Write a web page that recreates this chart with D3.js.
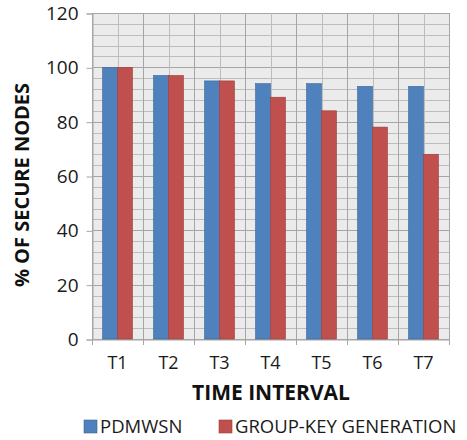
<!DOCTYPE html>
<html><head><meta charset="utf-8">
<script src="https://cdn.jsdelivr.net/npm/d3@7"></script>
<style>body{margin:0;background:#fff}</style>
</head><body>
<svg id="c" width="467" height="440"></svg>
<script>
const categories = ["T1","T2","T3","T4","T5","T6","T7"];
const seriesNames = ["PDMWSN","GROUP-KEY GENERATION"];
const pdmwsn = [100,97,95,94,94,93,93];
const groupKey = [100,97,95,89,84,78,68];
const yTicks = [0,20,40,60,80,100,120];
const colors = ["#4f81bd","#c0504d"];
const strokes = ["#3d6797","#9a3e3b"];

const font = "'Open Sans', sans-serif";
const svg = d3.select("#c");
const L = 92, R = 449, T = 13, B = 339;

const x = d3.scaleBand().domain(categories).range([L, R]).paddingInner(0).paddingOuter(0);
const x1 = d3.scaleBand().domain(seriesNames).range([0, x.bandwidth()]).paddingOuter(0.7).paddingInner(0);
const y = d3.scaleLinear().domain([0,120]).range([B, T]);

// plot background
svg.append("rect").attr("x", L).attr("y", T).attr("width", R-L).attr("height", B-T).attr("fill", "#ebebeb");

// minor horizontal gridlines
const minor = d3.range(0, 121, 4);
svg.append("g").selectAll("line").data(minor).join("line")
  .attr("x1", L).attr("x2", R).attr("y1", d => Math.round(y(d))+0.5).attr("y2", d => Math.round(y(d))+0.5)
  .attr("stroke", d => d % 20 === 0 ? "#a6a6a6" : "#bdbdbd").attr("stroke-width", 1);

// vertical gridlines: category boundaries and centers
const vb = categories.map(c => x(c)).concat([R]);
svg.append("g").selectAll("line").data(vb).join("line")
  .attr("x1", d => Math.round(d)+0.5).attr("x2", d => Math.round(d)+0.5).attr("y1", T).attr("y2", B+6)
  .attr("stroke", "#a6a6a6");
svg.append("g").selectAll("line").data(categories).join("line")
  .attr("x1", d => Math.round(x(d)+x.bandwidth()/2)+0.5).attr("x2", d => Math.round(x(d)+x.bandwidth()/2)+0.5)
  .attr("y1", T).attr("y2", B)
  .attr("stroke", "#bdbdbd");

// y axis
const yAxis = d3.axisLeft(y).tickValues(yTicks).tickSize(6).tickPadding(8);
const ya = svg.append("g").attr("transform", `translate(${L+0.5},0.5)`).call(yAxis);
ya.select(".domain").attr("stroke", "#a6a6a6");
ya.selectAll(".tick line").attr("stroke", "#a6a6a6");
ya.selectAll("text").attr("font-family", font).attr("font-size", 19).attr("fill", "#1a1a1a");

// x axis labels
const xAxis = d3.axisBottom(x).tickSize(0).tickPadding(17);
const xa = svg.append("g").attr("transform", `translate(0,${B+0.5})`).call(xAxis);
xa.select(".domain").attr("stroke", "#a6a6a6");
xa.selectAll("text").attr("font-family", font).attr("font-size", 18).attr("fill", "#1a1a1a");

// bars
const data = categories.map((c,i) => ({c, vals: [pdmwsn[i], groupKey[i]]}));
const g = svg.append("g").selectAll("g").data(data).join("g").attr("transform", d => `translate(${x(d.c)},0)`);
g.selectAll("rect").data(d => d.vals.map((v,j) => ({v, j}))).join("rect")
  .attr("x", d => x1(seriesNames[d.j]))
  .attr("y", d => y(d.v))
  .attr("width", x1.bandwidth())
  .attr("height", d => B - y(d.v))
  .attr("fill", d => colors[d.j])
  .attr("stroke", d => strokes[d.j]).attr("stroke-width", 0.6);

// titles
svg.append("text").attr("x", 271).attr("y", 400).attr("text-anchor", "middle")
  .attr("font-family", font).attr("font-weight", "bold").attr("font-size", 21).attr("fill", "#111")
  .text("TIME INTERVAL");
svg.append("text").attr("transform", "translate(29,185) rotate(-90)").attr("text-anchor", "middle")
  .attr("font-family", font).attr("font-weight", "bold").attr("font-size", 20).attr("fill", "#111")
  .text("% OF SECURE NODES");

// legend
const lx = [84, 219];
const lg = svg.append("g").selectAll("g").data(seriesNames).join("g")
  .attr("transform", (d,i) => `translate(${lx[i]},420)`);
lg.append("rect").attr("width", 13).attr("height", 13).attr("fill", (d,i) => colors[i]).attr("stroke", (d,i)=>strokes[i]).attr("stroke-width",0.6);
lg.append("text").attr("x", 16).attr("y", 13).attr("font-family", font).attr("font-size", 18.5).attr("fill", "#1a1a1a").text(d => d);
</script>
</body></html>
